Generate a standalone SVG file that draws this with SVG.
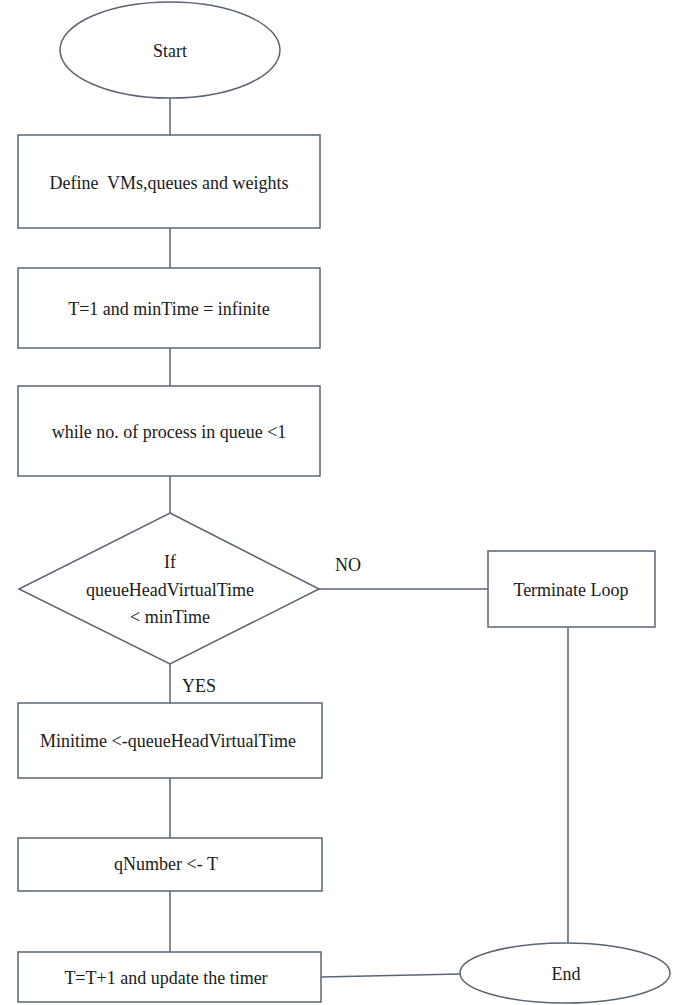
<svg xmlns="http://www.w3.org/2000/svg" width="680" height="1005" viewBox="0 0 680 1005">
<style>
.shape{fill:#ffffff;stroke:#5a6472;stroke-width:1.5}
.conn{fill:none;stroke:#5a6472;stroke-width:1.5}
text{font-family:"Liberation Serif","Times New Roman",serif;font-size:18px;fill:#1a1a1a;text-anchor:middle}
</style>
<rect x="0" y="0" width="680" height="1005" fill="#ffffff"/>
<g id="connectors">
<line class="conn" x1="170" y1="98" x2="170" y2="135"/>
<line class="conn" x1="170" y1="228" x2="170" y2="268"/>
<line class="conn" x1="170" y1="348" x2="170" y2="386"/>
<line class="conn" x1="170" y1="476" x2="170" y2="513"/>
<line class="conn" x1="319" y1="589" x2="488" y2="589"/>
<line class="conn" x1="170" y1="664" x2="170" y2="703"/>
<line class="conn" x1="170" y1="778" x2="170" y2="838"/>
<line class="conn" x1="170" y1="891" x2="170" y2="952"/>
<line class="conn" x1="568" y1="627" x2="568" y2="943"/>
<line class="conn" x1="321" y1="977" x2="460" y2="974"/>
<text x="348" y="571">NO</text>
<text x="199" y="692">YES</text>
</g>
<g id="start">
<ellipse class="shape" cx="170" cy="50" rx="110" ry="48"/>
<text x="170" y="57">Start</text>
</g>
<g id="define">
<rect class="shape" x="18" y="135" width="302" height="93"/>
<text x="169" y="189" xml:space="preserve">Define  VMs,queues and weights</text>
</g>
<g id="init">
<rect class="shape" x="18" y="268" width="302" height="80"/>
<text x="169" y="315">T=1 and minTime = infinite</text>
</g>
<g id="while">
<rect class="shape" x="18" y="386" width="302" height="90"/>
<text x="169" y="438">while no. of process in queue &lt;1</text>
</g>
<g id="decision">
<polygon class="shape" points="170,513 319,589 170,664 19,589"/>
<text x="170" y="568">If</text>
<text x="170" y="596">queueHeadVirtualTime</text>
<text x="170" y="623">&lt; minTime</text>
</g>
<g id="terminate">
<rect class="shape" x="488" y="551" width="167" height="76"/>
<text x="571" y="596">Terminate Loop</text>
</g>
<g id="minitime">
<rect class="shape" x="18" y="703" width="304" height="75"/>
<text x="168" y="747">Minitime &lt;-queueHeadVirtualTime</text>
</g>
<g id="qnumber">
<rect class="shape" x="18" y="838" width="304" height="53"/>
<text x="166" y="870">qNumber &lt;- T</text>
</g>
<g id="increment">
<rect class="shape" x="18" y="952" width="303" height="50"/>
<text x="166" y="984">T=T+1 and update the timer</text>
</g>
<g id="end">
<ellipse class="shape" cx="565" cy="973" rx="105" ry="30"/>
<text x="566" y="980">End</text>
</g>
</svg>
